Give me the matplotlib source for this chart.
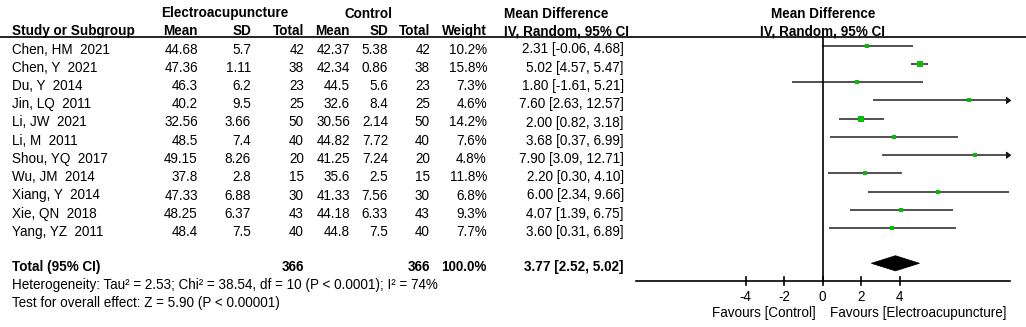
import matplotlib
matplotlib.use("Agg")
import matplotlib.pyplot as plt
from matplotlib.patches import Polygon

# ---------------- data ----------------
studies = ["Chen, HM  2021", "Chen, Y  2021", "Du, Y  2014", "Jin, LQ  2011", "Li, JW  2021",
           "Li, M  2011", "Shou, YQ  2017", "Wu, JM  2014", "Xiang, Y  2014", "Xie, QN  2018",
           "Yang, YZ  2011"]
ea_mean = ["44.68", "47.36", "46.3", "40.2", "32.56", "48.5", "49.15", "37.8", "47.33", "48.25", "48.4"]
ea_sd = ["5.7", "1.11", "6.2", "9.5", "3.66", "7.4", "8.26", "2.8", "6.88", "6.37", "7.5"]
ea_n = [42, 38, 23, 25, 50, 40, 20, 15, 30, 43, 40]
ct_mean = ["42.37", "42.34", "44.5", "32.6", "30.56", "44.82", "41.25", "35.6", "41.33", "44.18", "44.8"]
ct_sd = ["5.38", "0.86", "5.6", "8.4", "2.14", "7.72", "7.24", "2.5", "7.56", "6.33", "7.5"]
ct_n = [42, 38, 23, 25, 50, 40, 20, 15, 30, 43, 40]
weight = [10.2, 15.8, 7.3, 4.6, 14.2, 7.6, 4.8, 11.8, 6.8, 9.3, 7.7]
md = [2.31, 5.02, 1.80, 7.60, 2.00, 3.68, 7.90, 2.20, 6.00, 4.07, 3.60]
lo = [-0.06, 4.57, -1.61, 2.63, 0.82, 0.37, 3.09, 0.30, 2.34, 1.39, 0.31]
hi = [4.68, 5.47, 5.21, 12.57, 3.18, 6.99, 12.71, 4.10, 9.66, 6.75, 6.89]
total_md, total_lo, total_hi = 3.77, 2.52, 5.02
total_n_ea, total_n_ct = 366, 366
axis_ticks = [-4, -2, 0, 2, 4]
axis_lim = 9.7

# ---------------- layout ----------------
W, H = 1026, 327
fig = plt.figure(figsize=(W / 100, H / 100), dpi=100)
plt.rcParams['font.family'] = ['Liberation Sans', 'DejaVu Sans']
FS = 9.75

# text axes in pixel coords
tax = fig.add_axes([0, 0, 1, 1])
tax.set_xlim(0, W)
tax.set_ylim(H, 0)
tax.axis("off")

# forest axes: x in mean-difference units, y in pixels
zero_px, px_per_unit = 822.7, 19.29
fax = fig.add_axes([0, 0, 1, 1])
fax.set_xlim(-zero_px / px_per_unit, (W - zero_px) / px_per_unit)
fax.set_ylim(H, 0)
fax.axis("off")
fax.patch.set_alpha(0)

def t(x, y, s, ha="left", bold=False):
    tax.text(x, y, s, ha=ha, va="center", fontsize=FS,
             fontweight="bold" if bold else "normal", color="black")

# headers
t(225, 13.5, "Electroacupuncture", ha="center", bold=True)
t(368.5, 13.5, "Control", ha="center", bold=True)
t(504, 13.5, "Mean Difference", bold=True)
t(823, 13.5, "Mean Difference", ha="center", bold=True)
y2 = 31
t(12, y2, "Study or Subgroup", bold=True)
t(198, y2, "Mean", ha="right", bold=True)
t(251, y2, "SD", ha="right", bold=True)
t(304, y2, "Total", ha="right", bold=True)
t(350, y2, "Mean", ha="right", bold=True)
t(388, y2, "SD", ha="right", bold=True)
t(430, y2, "Total", ha="right", bold=True)
t(487, y2, "Weight", ha="right", bold=True)
t(504, y2, "IV, Random, 95% CI", bold=True)
t(823, y2, "IV, Random, 95% CI", ha="center", bold=True)
tax.plot([0, W], [36.7, 36.7], color="black", lw=1.2)

y0, dy = 49.5, 18.25
for i, name in enumerate(studies):
    y = y0 + i * dy
    t(12, y, name)
    t(198, y, ea_mean[i], ha="right")
    t(251, y, ea_sd[i], ha="right")
    t(304, y, str(ea_n[i]), ha="right")
    t(350, y, ct_mean[i], ha="right")
    t(388, y, ct_sd[i], ha="right")
    t(430, y, str(ct_n[i]), ha="right")
    t(487, y, f"{weight[i]:.1f}%", ha="right")
    t(624, y, f"{md[i]:.2f} [{lo[i]:.2f}, {hi[i]:.2f}]", ha="right")

    ym = y - 3.8
    right = min(hi[i], axis_lim)
    fax.plot([lo[i], right], [ym, ym], color="#222222", lw=1.1, solid_capstyle="butt")
    if hi[i] > axis_lim:
        al = 4.5 / px_per_unit
        fax.add_patch(Polygon([[axis_lim + 0.05, ym], [axis_lim + 0.05 - al, ym - 3.2],
                               [axis_lim + 0.05 - al, ym + 3.2]], closed=True,
                              facecolor="black", edgecolor="black", lw=0.5))
    side_px = 2.2 + 0.2 * weight[i]
    fax.plot([md[i]], [ym], marker="s", markersize=side_px * 0.72, color="#00C000",
             markeredgewidth=0, linestyle="none")

yt = 267.0
t(12, yt, "Total (95% CI)", bold=True)
t(304, yt, str(total_n_ea), ha="right", bold=True)
t(430, yt, str(total_n_ct), ha="right", bold=True)
t(487, yt, "100.0%", ha="right", bold=True)
t(623, yt, f"{total_md:.2f} [{total_lo:.2f}, {total_hi:.2f}]", ha="right", bold=True)
t(12, 285, "Heterogeneity: Tau\u00b2 = 2.53; Chi\u00b2 = 38.54, df = 10 (P < 0.0001); I\u00b2 = 74%")
t(12, 303, "Test for overall effect: Z = 5.90 (P < 0.00001)")

yd = 263.3
fax.add_patch(Polygon([[total_lo, yd], [total_md, yd - 7.6], [total_hi, yd], [total_md, yd + 7.6]],
                      closed=True, facecolor="black", edgecolor="black", lw=0.5))

# zero line and axis
ax_y = 281.0
fax.plot([0, 0], [36.7, ax_y], color="black", lw=1.2)
fax.plot([-axis_lim, axis_lim], [ax_y, ax_y], color="black", lw=1.2)
for tk in axis_ticks:
    fax.plot([tk, tk], [277, 285], color="black", lw=1.2)
    fax.text(tk, 297, f"{tk}", ha="center", va="center", fontsize=FS)
fax.text(-0.35, 312.5, "Favours [Control]", ha="right", va="center", fontsize=FS)
fax.text(0.38, 312.5, "Favours [Electroacupuncture]", ha="left", va="center", fontsize=FS)

fig.savefig("out.png", dpi=100)
